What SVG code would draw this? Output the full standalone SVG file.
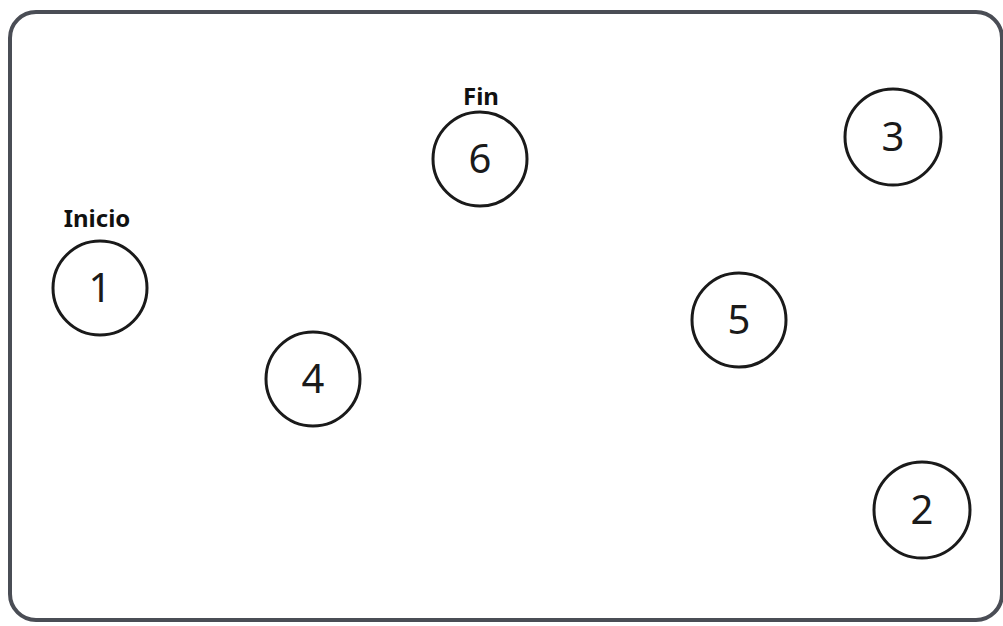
<svg xmlns="http://www.w3.org/2000/svg" width="1003" height="626" viewBox="0 0 1003 626">
<style>
.n circle{fill:#fff;stroke:#1a1a1a;stroke-width:3}
.num{font-family:"Noto Sans","Open Sans",sans-serif;font-size:40px;fill:#1a1a1a;text-anchor:middle}
.lbl{font-family:"Noto Sans","Open Sans",sans-serif;font-size:24px;font-weight:bold;fill:#111;text-anchor:middle}
</style>
<rect width="1003" height="626" fill="#fff"/>
<rect id="frame" x="10" y="12" width="992" height="608" rx="26" ry="26" fill="none" stroke="#4a4d55" stroke-width="4"/>
<g id="connectors"></g>
<g id="node1" class="n"><text class="lbl" x="97" y="227">Inicio</text><circle cx="100" cy="288" r="47"/><text class="num" x="100" y="302">1</text></g>
<g id="node6" class="n"><text class="lbl" x="481" y="105">Fin</text><circle cx="480" cy="159" r="47"/><text class="num" x="480" y="173">6</text></g>
<g id="node3" class="n"><circle cx="893" cy="137" r="48"/><text class="num" x="893" y="151">3</text></g>
<g id="node5" class="n"><circle cx="739" cy="320" r="47"/><text class="num" x="739" y="334">5</text></g>
<g id="node4" class="n"><circle cx="313" cy="379" r="47"/><text class="num" x="313" y="393">4</text></g>
<g id="node2" class="n"><circle cx="922" cy="510" r="48"/><text class="num" x="922" y="524">2</text></g>
</svg>
